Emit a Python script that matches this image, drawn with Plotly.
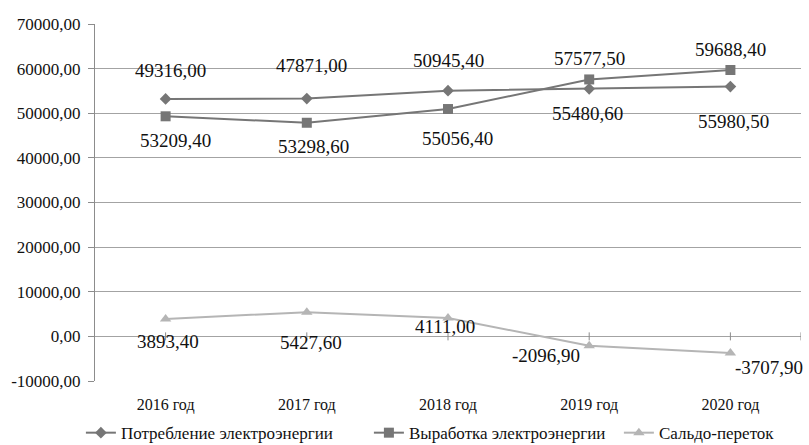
import plotly.graph_objects as go

# Categories and series values
years = ["2016 год", "2017 год", "2018 год", "2019 год", "2020 год"]
consumption = [53209.40, 53298.60, 55056.40, 55480.60, 55980.50]   # Потребление электроэнергии
generation = [49316.00, 47871.00, 50945.40, 57577.50, 59688.40]    # Выработка электроэнергии
balance = [3893.40, 5427.60, 4111.00, -2096.90, -3707.90]          # Сальдо-переток

y_tick_values = [-10000, 0, 10000, 20000, 30000, 40000, 50000, 60000, 70000]
y_tick_labels = ["-10000,00", "0,00", "10000,00", "20000,00", "30000,00",
                 "40000,00", "50000,00", "60000,00", "70000,00"]

names = ["Потребление электроэнергии", "Выработка электроэнергии", "Сальдо-переток"]

# Label placement relative to each point, in pixels (dx, dy; dy positive = up)
consumption_label_shift = [(10, -42), (7, -48), (9, -48), (-2, -25), (3, -35)]
generation_label_shift = [(5, 46), (5, 57), (0, 49), (0, 21), (0, 21)]
balance_label_shift = [(2, -22), (4, -30), (-3, -8), (-43, -10), (39, -15)]

# Left edge of each legend entry, as a fraction of the page width
legend_x = [0.100, 0.456, 0.765]

FONT = "Liberation Serif"
GRID = "#a3a3a3"


def fmt(v):
    return f"{v:.2f}".replace(".", ",")


fig = go.Figure()

styles = [
    dict(symbol="diamond", size=9, color="#767676"),
    dict(symbol="square", size=10, color="#767676"),
    dict(symbol="triangle-up", size=10, color="#b5b5b5"),
]
series = [consumption, generation, balance]
shifts = [consumption_label_shift, generation_label_shift, balance_label_shift]
legend_ids = ["legend", "legend2", "legend3"]

for name, vals, st, lid in zip(names, series, styles, legend_ids):
    fig.add_trace(go.Scatter(
        x=years, y=vals, name=name, mode="lines+markers", legend=lid,
        line=dict(color=st["color"], width=2),
        marker=dict(symbol=st["symbol"], size=st["size"], color=st["color"]),
    ))

annotations = []
for vals, sh in zip(series, shifts):
    for x, v, (dx, dy) in zip(years, vals, sh):
        annotations.append(dict(
            x=x, y=v, xref="x", yref="y", text=fmt(v), showarrow=False,
            xshift=dx, yshift=dy, font=dict(family=FONT, size=19, color="#111"),
        ))

# Small tick marks on the zero line at each category
shapes = []
for i in list(range(len(years))) + [len(years) - 0.5]:
    shapes.append(dict(type="line", xref="x", yref="y", x0=i, x1=i, y0=-900, y1=900,
                       line=dict(color="#8c8c8c", width=1)))

legend_style = dict(orientation="h", xref="container", xanchor="left",
                    y=-0.146, yanchor="middle", itemwidth=30,
                    font=dict(family=FONT, size=17, color="#111"),
                    bgcolor="rgba(0,0,0,0)")

fig.update_layout(
    width=809, height=445,
    margin=dict(l=95, r=8, t=24, b=64, autoexpand=False),
    paper_bgcolor="white", plot_bgcolor="white",
    font=dict(family=FONT, color="#111"),
    showlegend=True,
    legend=dict(x=legend_x[0], **legend_style),
    legend2=dict(x=legend_x[1], **legend_style),
    legend3=dict(x=legend_x[2], **legend_style),
    annotations=annotations,
    shapes=shapes,
)

fig.update_xaxes(
    type="category", range=[-0.5, 4.5], showgrid=False, showline=False,
    zeroline=False, ticks="", ticklabelstandoff=12,
    tickfont=dict(family=FONT, size=16, color="#111"),
)
fig.update_yaxes(
    range=[-10000, 70000], tickvals=y_tick_values, ticktext=y_tick_labels,
    showgrid=True, gridcolor=GRID, gridwidth=1,
    zeroline=True, zerolinecolor=GRID, zerolinewidth=1,
    showline=True, linecolor="#8c8c8c", linewidth=1,
    ticks="outside", ticklen=6, tickcolor="#8c8c8c", ticklabelstandoff=4,
    tickfont=dict(family=FONT, size=17, color="#111"),
)

fig.write_html("out.html")
